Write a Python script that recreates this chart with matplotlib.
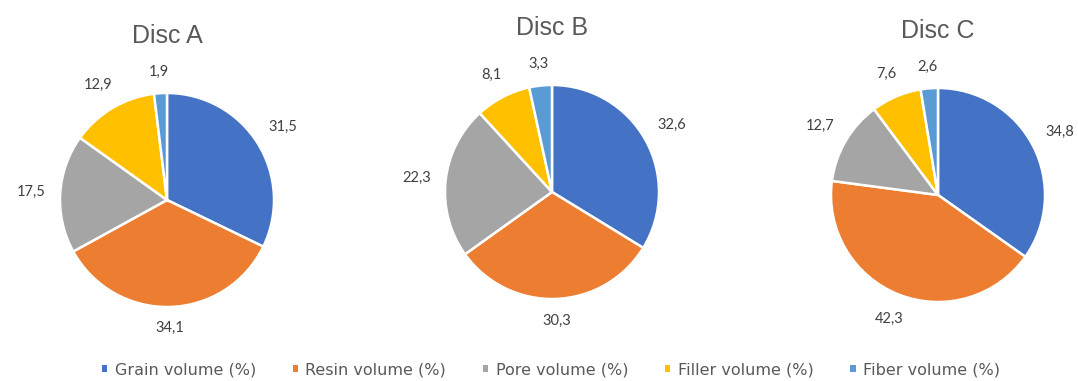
import numpy as np
import matplotlib.pyplot as plt
from matplotlib.patches import Patch

# volumes in % for each disc (grain, resin, pore, filler, fiber)
categorias = ['Grain volume (%)', 'Resin volume (%)', 'Pore volume (%)',
              'Filler volume (%)', 'Fiber volume (%)']
disc_a = [31.5, 34.1, 17.5, 12.9, 1.9]
disc_b = [32.6, 30.3, 22.3, 8.1, 3.3]
disc_c = [34.8, 42.3, 12.7, 7.6, 2.6]
titulos = ['Disc A', 'Disc B', 'Disc C']

cores = ['#4472C4', '#ED7D31', '#A5A5A5', '#FFC000', '#5B9BD5']

W, H = 1078, 381
fig = plt.figure(figsize=(W / 100, H / 100), dpi=100)
renderer = fig.canvas.get_renderer()

# centro (px) e raio de cada pizza
centros = [(167, 200), (552, 192), (938, 195)]
raio = 107
folga = 14  # distancia (px) entre a borda da pizza e o rotulo

for valores, titulo, (cx, cy) in zip([disc_a, disc_b, disc_c], titulos, centros):
    ax = fig.add_axes([(cx - raio) / W, (H - cy - raio) / H, 2 * raio / W, 2 * raio / H])
    rotulos = [f'{v:.1f}'.replace('.', ',') for v in valores]
    fatias, textos = ax.pie(valores, labels=rotulos, colors=cores, startangle=90,
                            counterclock=False, labeldistance=1.2,
                            wedgeprops={'edgecolor': 'white', 'linewidth': 1.8},
                            textprops={'ha': 'center', 'va': 'center', 'fontsize': 10.5,
                                       'color': '#404040', 'family': 'Lato'})
    ax.set_xlim(-1, 1)
    ax.set_ylim(-1, 1)
    ax.set_aspect('equal')

    # afasta cada rotulo conforme o tamanho da caixa de texto
    for fatia, txt in zip(fatias, textos):
        ang = np.deg2rad((fatia.theta1 + fatia.theta2) / 2)
        bb = txt.get_window_extent(renderer)
        dist = raio + folga + abs(np.cos(ang)) * bb.width / 2 + abs(np.sin(ang)) * bb.height / 2
        txt.set_position((dist / raio * np.cos(ang), dist / raio * np.sin(ang)))

    ax.text(0, 1.53, titulo, ha='center', va='center', fontsize=18,
            color='#595959', family='Liberation Sans', clip_on=False)

handles = [Patch(facecolor=c, edgecolor='none', label=n) for c, n in zip(cores, categorias)]
fig.legend(handles=handles, loc='center', bbox_to_anchor=(0.511, 0.03), ncol=5,
           frameon=False, handlelength=0.35, handleheight=0.35, handletextpad=0.45,
           columnspacing=2.3, prop={'family': 'DejaVu Sans', 'size': 11.5},
           labelcolor='#595959')

fig.savefig('out.png', dpi=100)
